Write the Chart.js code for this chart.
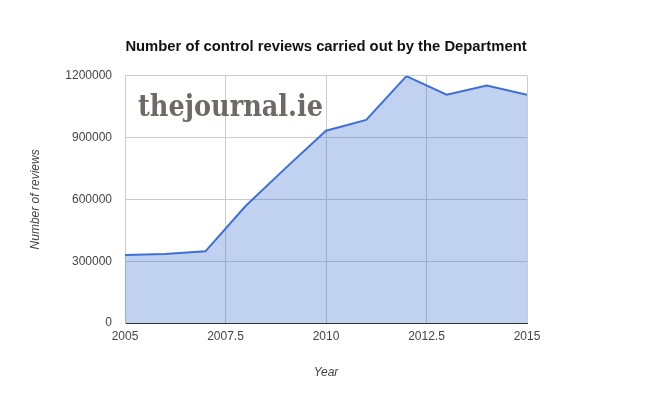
<!DOCTYPE html>
<html>
<head>
<meta charset="utf-8">
<script src="https://cdn.jsdelivr.net/npm/chart.js@4.4.0/dist/chart.umd.min.js"></script>
<style>
    body { margin: 0; background: #fff; }
    #wrap { width: 650px; height: 399px; }
</style>
</head>
<body>
<div id="wrap"><canvas id="reviews-chart" width="650" height="399"></canvas></div>
<script>
const years = [2005, 2006, 2007, 2008, 2009, 2010, 2011, 2012, 2013, 2014, 2015];
const reviews = [330000, 335000, 348000, 568000, 753000, 933000, 986000, 1198000, 1108000, 1153000, 1108000];
const xTicks = [2005, 2007.5, 2010, 2012.5, 2015];
const yTicks = [0, 300000, 600000, 900000, 1200000];

const font = "'Liberation Sans', Arial, sans-serif";

// logo text drawn behind the line, top left of the plot
const watermark = {
    id: 'watermark',
    afterDatasetsDraw(chart) {
        const ctx = chart.ctx;
        const text = 'thejournal.ie';
        ctx.save();
        ctx.font = "bold 30px 'DejaVu Serif', serif";
        ctx.fillStyle = '#6e6964';
        ctx.textBaseline = 'alphabetic';
        const w = ctx.measureText(text).width;
        ctx.translate(138, 116);
        ctx.scale(185 / w, 1);
        ctx.fillText(text, 0, 0);
        ctx.restore();
    }
};

const ctx = document.getElementById('reviews-chart').getContext('2d');
const reviewsChart = new Chart(ctx, {
    type: 'line',
    data: {
        datasets: [{
            label: 'Number of reviews',
            data: years.map((y, i) => ({ x: y, y: reviews[i] })),
            borderColor: '#3d6fd8',
            backgroundColor: 'rgba(51, 102, 204, 0.3)',
            borderWidth: 2,
            pointRadius: 0,
            tension: 0,
            fill: 'origin',
        }],
    },
    options: {
        responsive: false,
        animation: false,
        layout: { padding: { left: 24, right: 123, top: 0, bottom: 19 } },
        plugins: {
            legend: { display: false },
            tooltip: { enabled: false },
            title: {
                display: true,
                text: 'Number of control reviews carried out by the Department',
                fullSize: false,
                color: '#111',
                font: { family: font, size: 14.8, weight: 'bold', lineHeight: 1.2 },
                padding: { top: 38, bottom: 20 },
            },
        },
        scales: {
            x: {
                type: 'linear',
                min: 2005,
                max: 2015,
                afterBuildTicks: axis => { axis.ticks = xTicks.map(v => ({ value: v })); },
                afterFit: axis => { axis.height = 57; },
                ticks: {
                    color: '#444',
                    padding: 6,
                    font: { family: font, size: 12 },
                    maxRotation: 0,
                    callback: v => String(v),
                },
                grid: { color: '#cccccc', drawTicks: false },
                border: { color: '#333', width: 1 },
                title: {
                    display: true,
                    text: 'Year',
                    color: '#444',
                    font: { family: font, size: 12, style: 'italic' },
                    padding: { top: 0, bottom: 0 },
                },
            },
            y: {
                min: 0,
                max: 1200000,
                afterBuildTicks: axis => { axis.ticks = yTicks.map(v => ({ value: v })); },
                afterFit: axis => { axis.width = 101; },
                ticks: {
                    color: '#444',
                    padding: 13,
                    font: { family: font, size: 12 },
                    callback: v => String(v),
                },
                grid: { color: '#cccccc', drawTicks: false },
                border: { color: '#cccccc' },
                title: {
                    display: true,
                    text: 'Number of reviews',
                    color: '#444',
                    font: { family: font, size: 12, style: 'italic' },
                    padding: { top: 4, bottom: 0 },
                },
            },
        },
    },
    plugins: [watermark],
});
</script>
</body>
</html>
